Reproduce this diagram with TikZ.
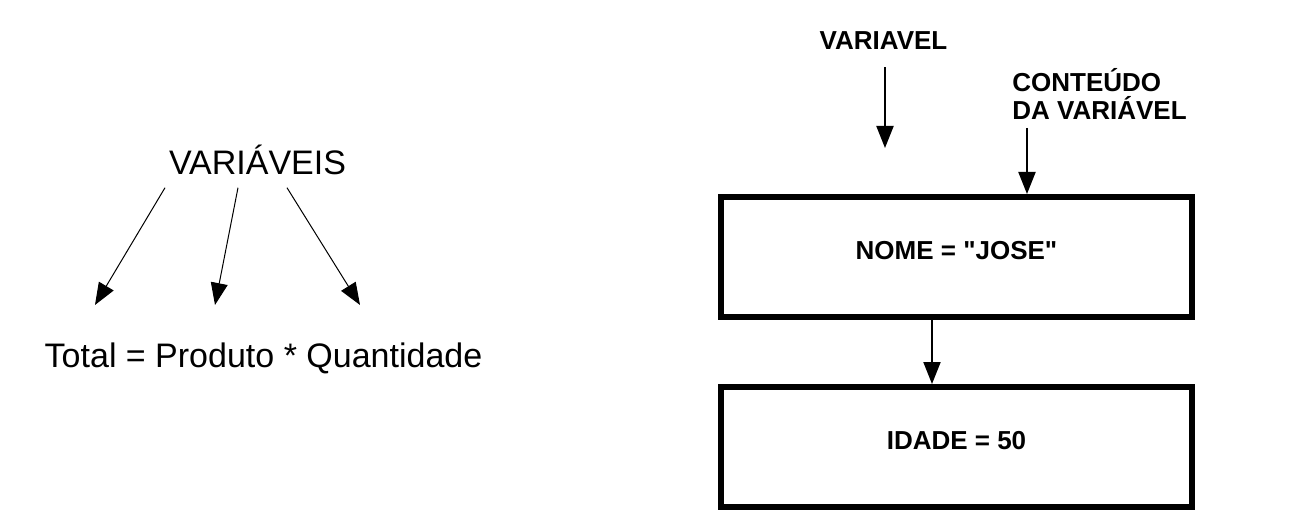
\documentclass[tikz,border=0pt]{standalone}
\usepackage{fontspec}
\setmainfont{Liberation Sans}
\usepackage{tikz}
\usetikzlibrary{arrows.meta}

\tikzset{
  seta/.style={-{Triangle[length=11pt,width=8.5pt]}, line width=0.5pt},
  setagrossa/.style={seta, line width=1pt},
  caixa/.style={draw, line width=3pt, minimum width=235.5pt, minimum height=60pt,
                text height=9.5pt, text depth=7pt,
                font=\bfseries\fontsize{13}{14}\selectfont},
  rotulo/.style={inner sep=0pt, font=\bfseries\fontsize{13}{14}\selectfont},
  texto/.style={inner sep=0pt, font=\fontsize{17}{20}\selectfont}
}

\begin{document}
\begin{tikzpicture}[x=0.5pt,y=-0.5pt]
    \useasboundingbox (0,0) rectangle (1300,529);
    % lado esquerdo
    \node[texto, anchor=base] (vars) at (257.5,175) {VARIÁVEIS};
    \node[texto, anchor=base] (total) at (263.5,367) {Total = Produto * Quantidade};
    \draw[seta] ([shift={(-92.5,12)}]vars.south) -- ([shift={(-168.5,-37)}]total.north);
    \draw[seta] ([shift={(-19.5,12)}]vars.south) -- ([shift={(-48.5,-37)}]total.north);
    \draw[seta] ([shift={(29.5,12)}]vars.south) -- ([shift={(96.5,-37)}]total.north);
    % lado direito
    \node[rotulo, anchor=base] (var) at (883.5,50) {VARIAVEL};
    \coordinate (ponta) at (885,148);
    \draw[setagrossa] ([shift={(1.5,17)}]var.south) -- (ponta);
    \node[rotulo, anchor=south west, align=left] (cont) at (1012,120) {CONTEÚDO\\DA VARIÁVEL};
    \node[caixa] (nome) at (956.5,257) {NOME = \textquotedbl JOSE\textquotedbl};
    \node[caixa] (idade) at (956.5,447) {IDADE = 50};
    \draw[setagrossa] ([shift={(15,8)}]cont.south west) -- ([shift={(70.5,0)}]nome.north);
    \draw[setagrossa] ([shift={(-24.5,0)}]nome.south) -- ([shift={(-24.5,0)}]idade.north);
\end{tikzpicture}
\end{document}
